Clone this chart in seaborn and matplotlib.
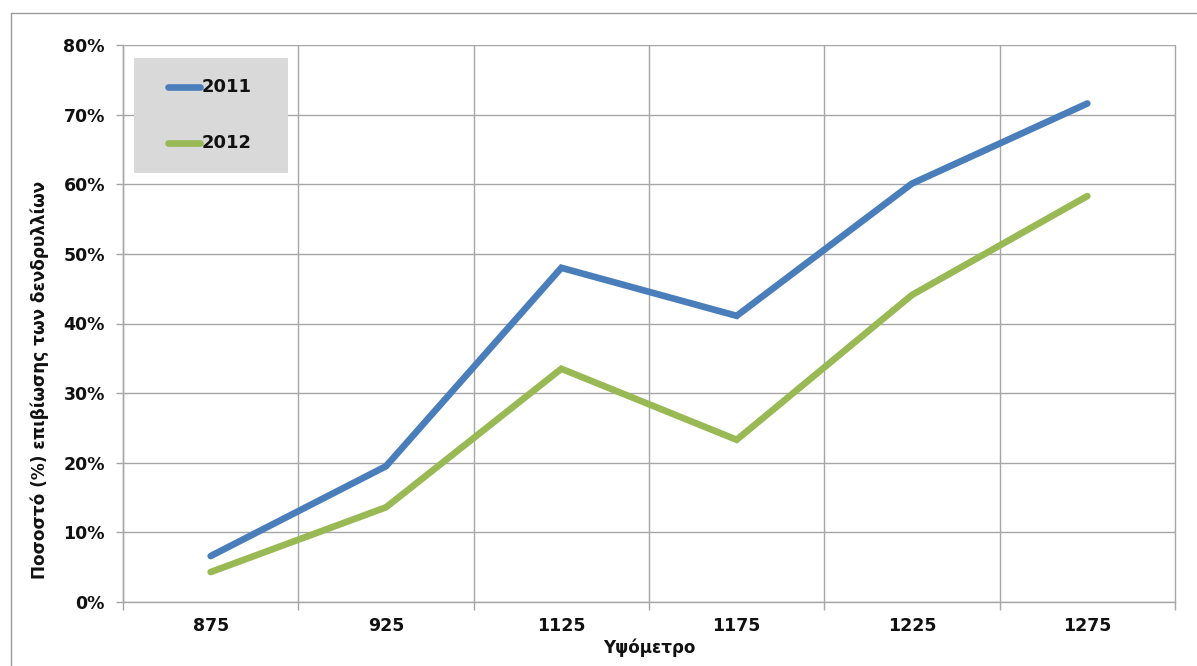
import numpy as np
import pandas as pd
import matplotlib
matplotlib.use("Agg")
import matplotlib.pyplot as plt
from matplotlib.ticker import FixedLocator, PercentFormatter
import seaborn as sns

# Survival rate of seedlings by altitude, two monitoring years
altitudes = ["875", "925", "1125", "1175", "1225", "1275"]
survival_2011 = [6.6, 19.5, 48.0, 41.1, 60.1, 71.6]
survival_2012 = [4.3, 13.6, 33.5, 23.3, 44.1, 58.3]
years = ["2011", "2012"]
colors = {"2011": "#4a7ebb", "2012": "#98b954"}

df = pd.DataFrame({
    "Υψόμετρο": altitudes * 2,
    "Ποσοστό": survival_2011 + survival_2012,
    "Έτος": [years[0]] * len(altitudes) + [years[1]] * len(altitudes),
})

sns.set_theme(style="white")
plt.rcParams["font.family"] = ["DejaVu Sans"]

W, H = 1197, 666
fig = plt.figure(figsize=(W / 100, H / 100), dpi=100)
ax = fig.add_axes([123 / W, 1 - 602 / H, (1175 - 123) / W, (602 - 45) / H])

sns.lineplot(data=df, x="Υψόμετρο", y="Ποσοστό", hue="Έτος",
             palette=colors, linewidth=4.8, sort=False, ax=ax,
             legend=False, solid_joinstyle="miter", solid_capstyle="round")

n = len(altitudes)
ax.set_xlim(-0.5, n - 0.5)
ax.set_ylim(0, 80)

grid_c = "#a6a6a6"
# vertical gridlines on category boundaries
for b in np.arange(-0.5, n, 1.0):
    ax.axvline(b, color=grid_c, lw=1.0, zorder=0, clip_on=False)
ax.set_yticks(np.arange(0, 81, 10))
ax.yaxis.grid(True, color=grid_c, lw=1.0)
ax.set_axisbelow(True)
ax.yaxis.set_major_formatter(PercentFormatter(decimals=0))

ax.set_xticks(range(n))
ax.set_xticklabels(altitudes)
ax.xaxis.set_minor_locator(FixedLocator(np.arange(-0.5, n, 1.0)))
ax.tick_params(axis="x", which="major", length=0, pad=11)
ax.tick_params(axis="x", which="minor", length=6, color=grid_c, width=1.0, bottom=True)
ax.tick_params(axis="y", length=5, color=grid_c, width=1.0, left=True, pad=8)
for lab in ax.get_xticklabels() + ax.get_yticklabels():
    lab.set_fontsize(12.5)
    lab.set_fontweight("bold")
    lab.set_color("#111111")

for side in ["top", "right"]:
    ax.spines[side].set_visible(False)
for side in ["left", "bottom"]:
    ax.spines[side].set_color(grid_c)
    ax.spines[side].set_linewidth(1.0)

ax.set_xlabel("")
ax.set_ylabel("")
fig.text(649 / W, 1 - 648 / H, "Υψόμετρο", ha="center", va="center",
         fontsize=12, fontweight="bold", color="#111111")
fig.text(40 / W, 1 - 380 / H, "Ποσοστό (%) επιβίωσης των δενδρυλλίων",
         ha="center", va="center", rotation=90,
         fontsize=12.2, fontweight="bold", color="#111111")

# legend box
lx0, ly0, lx1, ly1 = 134, 58, 288, 173
fig.patches.append(plt.Rectangle((lx0 / W, 1 - ly1 / H), (lx1 - lx0) / W, (ly1 - ly0) / H,
                                 transform=fig.transFigure, facecolor="#d9d9d9",
                                 edgecolor="none", zorder=5))
for yr, yy in zip(years, [87, 143]):
    fig.add_artist(plt.Line2D([168 / W, 200 / W], [1 - yy / H, 1 - yy / H],
                              color=colors[yr], lw=4.8, solid_capstyle="round",
                              transform=fig.transFigure, zorder=6))
    fig.text(202 / W, 1 - yy / H, yr, ha="left", va="center", fontsize=13,
             fontweight="bold", color="#111111", zorder=7)

# outer chart frame
fig.add_artist(plt.Line2D([11 / W, 11 / W, 1.0], [0.0, 1 - 13 / H, 1 - 13 / H],
                          color="#9a9a9a", lw=1.0, transform=fig.transFigure))

fig.savefig("out.png", dpi=100, facecolor="white")
